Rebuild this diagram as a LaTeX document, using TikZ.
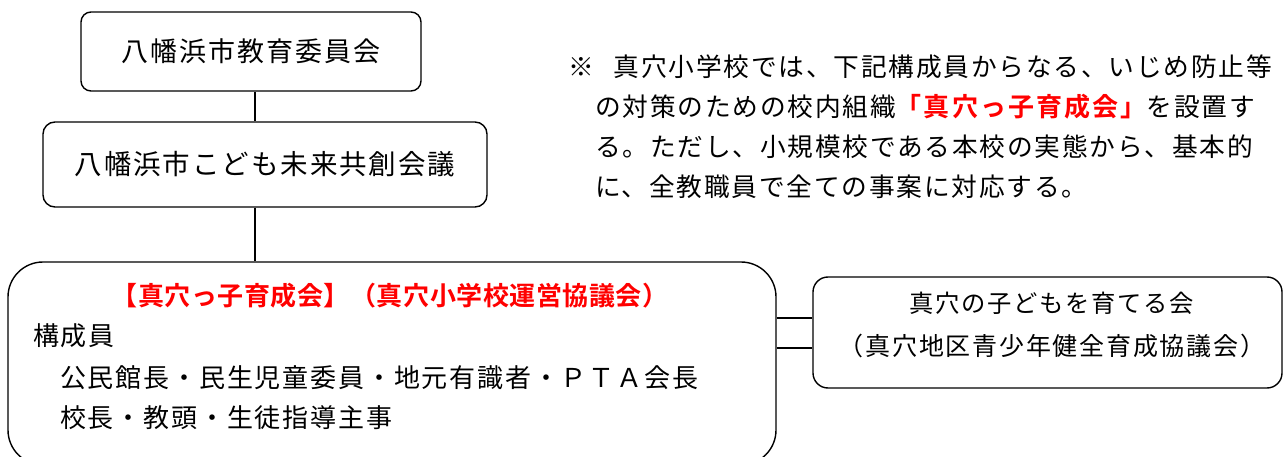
\documentclass[tikz,border=0pt]{standalone}
\usepackage{fontspec}
\newfontfamily\jp[LetterSpace=7]{Noto Sans CJK JP}
\newfontfamily\jpb[LetterSpace=2]{Noto Sans CJK JP Bold}
\newfontfamily\jpbw[LetterSpace=8]{Noto Sans CJK JP Bold}
\definecolor{hred}{RGB}{255,0,0}
\begin{document}
\begin{tikzpicture}[x=1pt,y=-1pt,
  box/.style={draw, line width=1.4pt, rounded corners=#1, inner sep=0pt},
  conn/.style={line width=1.4pt},
  txt/.style={inner sep=0pt, font=\jp\fontsize{26}{40}\selectfont}]
\useasboundingbox (0,0) rectangle (1285,457);
% boxes
\node[box=10pt, minimum width=340pt, minimum height=79pt, font=\jp\fontsize{27}{30}\selectfont] (b1) at (251,51.5) {八幡浜市教育委員会};
\node[box=12pt, minimum width=444pt, minimum height=85pt, font=\jp\fontsize{27.5}{30}\selectfont] (b2) at (265,164.5) {八幡浜市こども未来共創会議};
\node[box=35pt, minimum width=768pt, minimum height=203pt] (big) at (392,363.5) {};
\node[box=15pt, minimum width=469pt, minimum height=111pt] (rb) at (1047.5,332.5) {};
% connectors
\coordinate (cx) at (255,0);
\draw[conn] (cx |- b1.south) -- (cx |- b2.north);
\draw[conn] (cx |- b2.south) -- (cx |- big.north);
\coordinate (l1) at (0,318);
\coordinate (l2) at (0,348);
\draw[conn] (big.east |- l1) -- (rb.west |- l1);
\draw[conn] (big.east |- l2) -- (rb.west |- l2);
% big box text
\node[inner sep=0pt, font=\jpb\fontsize{26}{30}\selectfont, text=hred] (title) at (390,296) {【真穴っ子育成会】（真穴小学校運営協議会）};
\node[txt, anchor=west] (mem) at (33,336) {構成員};
\node[txt, anchor=west] (m1) at (60,378) {公民館長・民生児童委員・地元有識者・ＰＴＡ会長};
\node[txt, anchor=west] (m2) at (60,418) {校長・教頭・生徒指導主事};
% right box text
\node[inner sep=0pt, align=center, font=\jp\fontsize{25}{43}\selectfont] (rt) at (1052,325) {{\fontsize{24.3}{43}\selectfont 真穴の子どもを育てる会}\\（真穴地区青少年健全育成協議会）};
% note
\node[txt, anchor=north west, align=left, font=\jp\fontsize{25.7}{40}\selectfont] (note) at (568,55) {※\hspace{20pt}真穴小学校では、下記構成員からなる、いじめ防止等\\
\hspace{27pt}の対策のための校内組織{\jpbw\fontsize{26}{40}\selectfont\color{hred}「真穴っ子育成会」}を設置す\\
\hspace{27pt}る。ただし、小規模校である本校の実態から、基本的\\
\hspace{27pt}に、全教職員で全ての事案に対応する。};
\end{tikzpicture}
\end{document}
